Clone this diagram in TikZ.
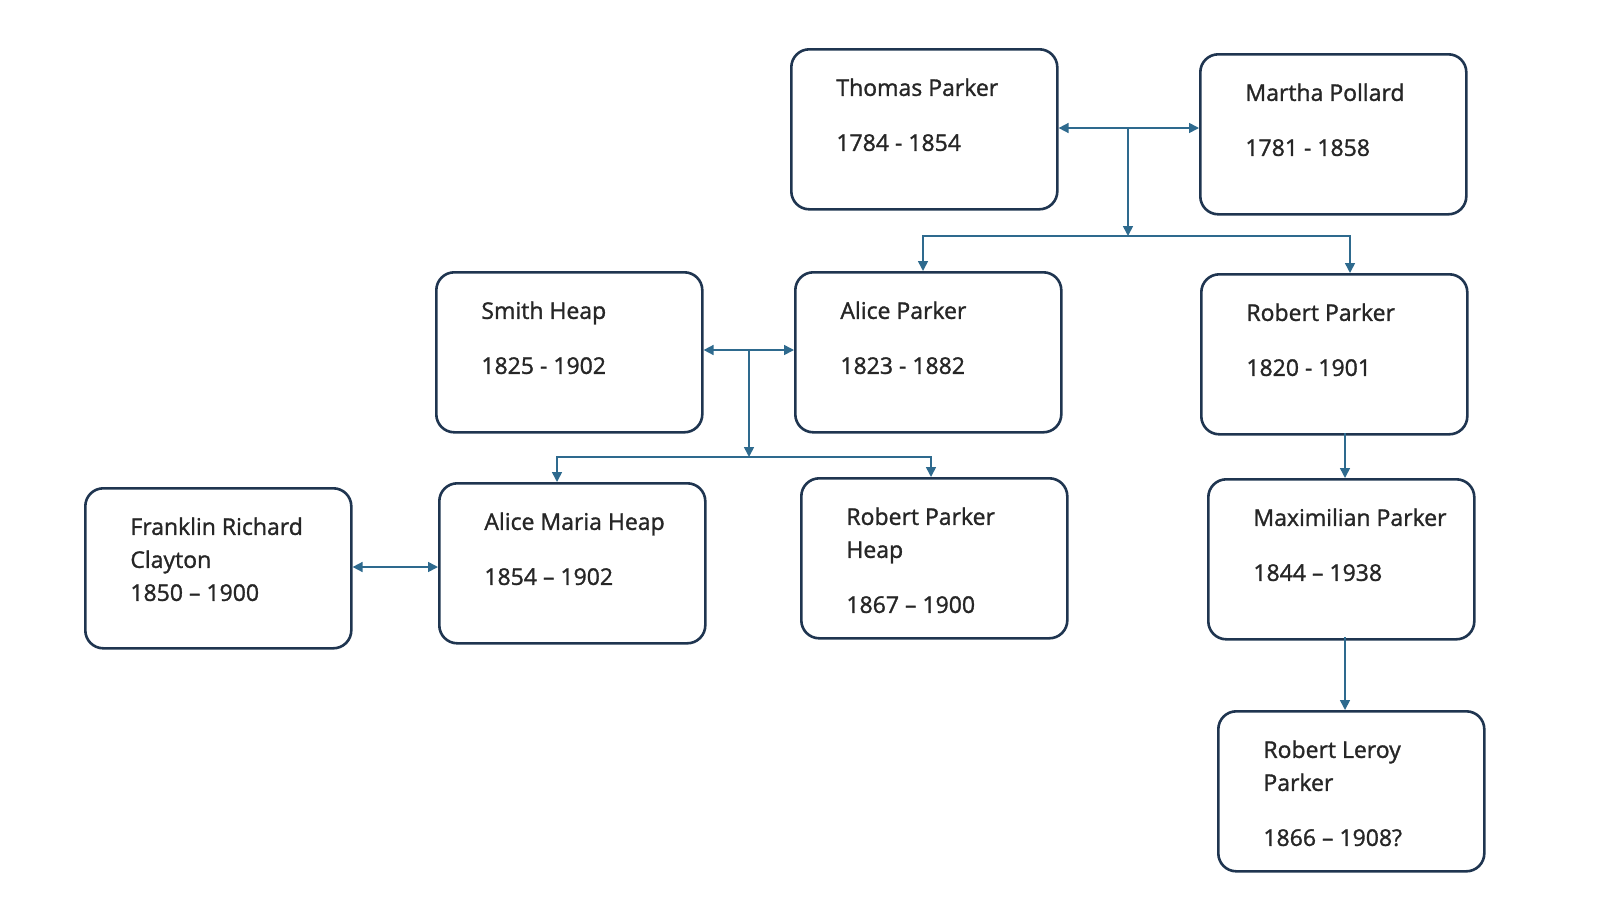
\documentclass[tikz,border=0pt]{standalone}
\usepackage{fontspec}
\setmainfont{Open Sans}[BoldFont={Open Sans},BoldFeatures={FakeBold=1.3}]
\usetikzlibrary{arrows.meta}
\definecolor{bord}{HTML}{1F3550}
\definecolor{arr}{HTML}{2E6A8E}
\begin{document}
\begin{tikzpicture}[x=0.5pt,y=-0.5pt,
 pbox/.style={draw=bord,line width=1.3pt,rounded corners=9pt,minimum width=133pt,minimum height=80pt,anchor=north west,inner sep=0pt},
 ptxt/.style={anchor=north west,align=left,inner sep=0pt,font=\fontsize{11.5}{16.5}\selectfont\bfseries,text=black!85},
 con/.style={draw=arr,line width=0.8pt,-{Triangle[length=5pt,width=5pt]}},
 dcon/.style={draw=arr,line width=0.8pt,{Triangle[length=5pt,width=5pt]}-{Triangle[length=5pt,width=5pt]}}]
\useasboundingbox (0,0) rectangle (1600,900);
\newcommand\person[5]{\node[pbox] (#1) at (#2,#3) {};
 \node[ptxt] (#1t) at (#2+46,#3+30) {#4};}
\person{tp}{790}{48}{Thomas Parker\\[11pt]1784 - 1854}{}
\person{mp}{1199}{53}{Martha Pollard\\[11pt]1781 - 1858}{}
\person{sh}{435}{271}{Smith Heap\\[11pt]1825 - 1902}{}
\person{ap}{794}{271}{Alice Parker\\[11pt]1823 - 1882}{}
\person{rp}{1200}{273}{Robert Parker\\[11pt]1820 - 1901}{}
\person{fc}{84}{487}{Franklin Richard\\Clayton\\1850 -- 1900}{}
\person{amh}{438}{482}{Alice Maria Heap\\[11pt]1854 -- 1902}{}
\person{rph}{800}{477}{Robert Parker\\Heap\\[11pt]1867 -- 1900}{}
\person{mx}{1207}{478}{Maximilian Parker\\[11pt]1844 -- 1938}{}
\person{rl}{1217}{710}{Robert Leroy\\Parker\\[11pt]1866 -- 1908?}{}
\coordinate (j1) at (1128,128);
\coordinate (j1b) at (1128,236);
\coordinate (j2) at (749,350);
\coordinate (j2b) at (749,457);
\draw[dcon] (tp.east|-j1) -- (mp.west|-j1);
\draw[con] (j1) -- (j1b);
\draw[con] (j1b) -| (923,271);
\draw[con] (j1b) -| (1350,273);
\draw[dcon] (sh.east|-j2) -- (ap.west|-j2);
\draw[con] (j2) -- (j2b);
\draw[con] (j2b) -| (557,482);
\draw[con] (j2b) -| (931,477);
\draw[dcon] (fc.east|-0,567) -- (amh.west|-0,567);
\draw[con] (1345,433) -- (1345,478);
\draw[con] (1345,637) -- (1345,710);
\end{tikzpicture}
\end{document}
